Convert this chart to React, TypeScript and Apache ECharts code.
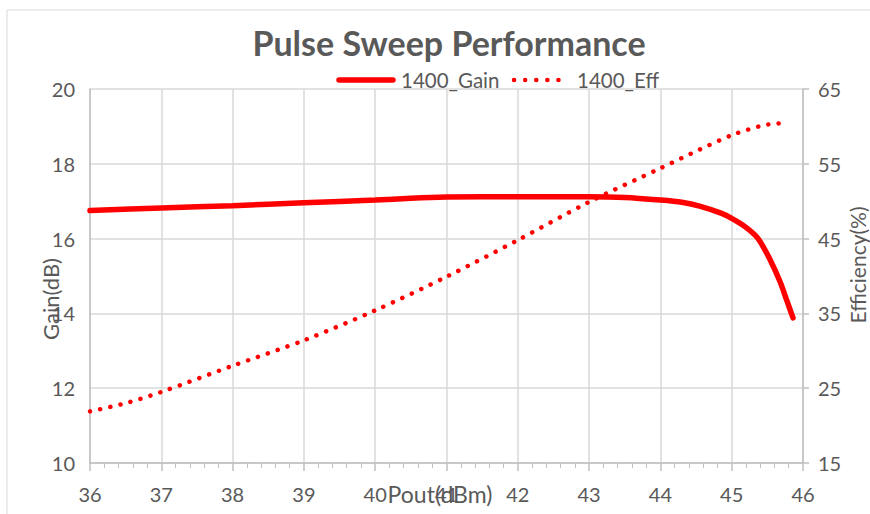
import React, { useEffect, useRef } from "react";
import * as echarts from "echarts";

const titleText = "Pulse Sweep Performance";
const gainName = "1400_Gain";
const effName = "1400_Eff";
const xTitle = "Pout(dBm)";
const yLeftTitle = "Gain(dB)";
const yRightTitle = "Efficiency(%)";

const gainPout = [36, 37, 38, 39, 40, 40.5, 41, 42, 43, 43.5, 44, 44.3, 44.55, 44.85, 45.0, 45.2, 45.37, 45.54, 45.68, 45.77, 45.86];
const gainValues = [16.75, 16.82, 16.88, 16.96, 17.03, 17.08, 17.11, 17.12, 17.12, 17.1, 17.03, 16.97, 16.87, 16.68, 16.54, 16.3, 16.0, 15.43, 14.84, 14.36, 13.88];

const effPout = [36, 36.5, 37, 38, 39, 40, 41, 42, 43, 44, 44.55, 45.02, 45.4, 45.54, 45.75];
const effValues = [21.9, 23.0, 24.5, 28.0, 31.4, 35.4, 39.9, 44.8, 49.9, 54.4, 56.9, 58.9, 60.05, 60.3, 60.45];

const FONT = "Lato";
const GREY = "#595959";
const RED = "#ff0000";

export default function App() {
  const ref = useRef<HTMLDivElement>(null);
  useEffect(() => {
    if (!ref.current) return;
    const chart = echarts.init(ref.current, null, { renderer: "svg" });
    chart.setOption({
      animation: false,
      backgroundColor: "#ffffff",
      textStyle: { fontFamily: FONT },
      grid: { left: 90, right: 67, top: 89, bottom: 51, containLabel: false },
      xAxis: {
        type: "value",
        min: 36,
        max: 46,
        interval: 1,
        axisLine: { show: true, onZero: false, lineStyle: { color: "#bfbfbf", width: 1.5 } },
        axisTick: { show: true, inside: false, length: 8, lineStyle: { color: "#bfbfbf", width: 1.5 } },
        minorTick: { show: true, splitNumber: 5, length: 5, lineStyle: { color: "#bfbfbf", width: 1 } },
        splitLine: { show: true, lineStyle: { color: "#d9d9d9", width: 1.5 } },
        axisLabel: { color: GREY, fontSize: 20, fontFamily: FONT, margin: 21 },
      },
      yAxis: [
        {
          type: "value",
          min: 10,
          max: 20,
          interval: 2,
          position: "left",
          axisLine: { show: true, lineStyle: { color: "#bfbfbf", width: 1.5 } },
          axisTick: { show: false },
          splitLine: { show: true, lineStyle: { color: "#d9d9d9", width: 1.5 } },
          axisLabel: { color: GREY, fontSize: 20, fontFamily: FONT, margin: 15 },
        },
        {
          type: "value",
          min: 15,
          max: 65,
          interval: 10,
          position: "right",
          axisLine: { show: true, lineStyle: { color: "#bfbfbf", width: 1.5 } },
          axisTick: { show: true, inside: false, length: 6, lineStyle: { color: "#bfbfbf", width: 1.5 } },
          splitLine: { show: false },
          axisLabel: { color: GREY, fontSize: 20, fontFamily: FONT, margin: 15 },
        },
      ],
      series: [
        {
          name: gainName,
          type: "line",
          yAxisIndex: 0,
          smooth: 0.3,
          showSymbol: false,
          symbol: "none",
          color: RED,
          lineStyle: { color: RED, width: 5.5, cap: "round" },
          data: gainPout.map((x, i) => [x, gainValues[i]]),
        },
        {
          name: effName,
          type: "line",
          yAxisIndex: 1,
          smooth: 0.3,
          showSymbol: false,
          symbol: "none",
          color: RED,
          lineStyle: { color: RED, width: 4.5, type: [0.1, 10.3], cap: "round" },
          data: effPout.map((x, i) => [x, effValues[i]]),
        },
      ],
      graphic: [
        {
          type: "rect",
          silent: true,
          shape: { x: 7, y: 10, width: 900, height: 600 },
          style: { fill: "none", stroke: "#d9d9d9", lineWidth: 1 },
          z: -10,
        },
        {
          type: "text",
          x: 449,
          y: 42,
          style: {
            text: titleText,
            fontFamily: FONT,
            fontWeight: "bold",
            fontSize: 34,
            fill: GREY,
            textAlign: "center",
            textVerticalAlign: "middle",
          },
        },
        // legend
        {
          type: "line",
          shape: { x1: 339, y1: 80, x2: 393, y2: 80 },
          style: { stroke: RED, lineWidth: 5.5, lineCap: "round" },
        },
        {
          type: "text",
          x: 401,
          y: 80,
          style: { text: gainName, fontFamily: FONT, fontSize: 20.5, fill: GREY, textAlign: "left", textVerticalAlign: "middle" },
        },
        {
          type: "line",
          shape: { x1: 514, y1: 80, x2: 560, y2: 80 },
          style: { stroke: RED, lineWidth: 4.5, lineCap: "round", lineDash: [0.1, 11] },
        },
        {
          type: "text",
          x: 577,
          y: 80,
          style: { text: effName, fontFamily: FONT, fontSize: 20.5, fill: GREY, textAlign: "left", textVerticalAlign: "middle" },
        },
        {
          type: "text",
          x: 50,
          y: 299,
          rotation: Math.PI / 2,
          style: {
            text: yLeftTitle,
            fontFamily: FONT,
            fontSize: 22,
            fill: GREY,
            textAlign: "center",
            textVerticalAlign: "middle",
          },
        },
        {
          type: "text",
          x: 857,
          y: 265,
          rotation: Math.PI / 2,
          style: {
            text: yRightTitle,
            fontFamily: FONT,
            fontSize: 21,
            fill: GREY,
            textAlign: "center",
            textVerticalAlign: "middle",
          },
        },
        {
          type: "text",
          x: 440,
          y: 494,
          style: {
            text: xTitle,
            fontFamily: FONT,
            fontSize: 23,
            fill: GREY,
            textAlign: "center",
            textVerticalAlign: "middle",
          },
        },
      ],
    });
    return () => chart.dispose();
  }, []);
  return (
    <div
      ref={ref}
      style={{ position: "fixed", left: 0, top: 0, width: 870, height: 514, background: "#fff" }}
    />
  );
}
